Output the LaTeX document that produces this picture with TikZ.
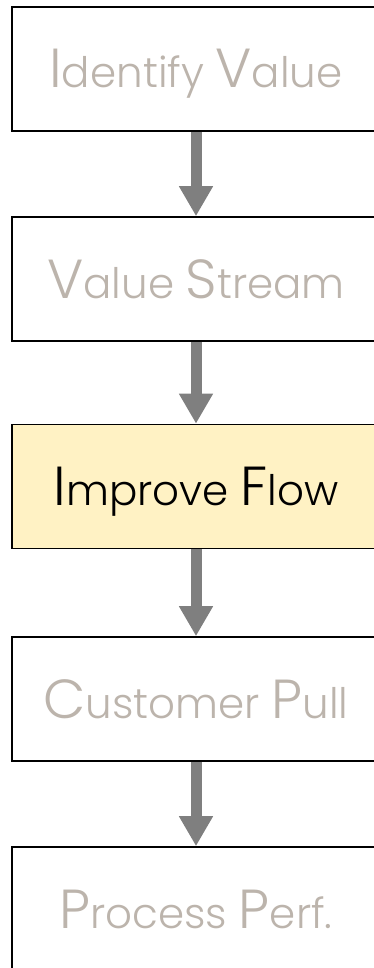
\documentclass[tikz,border=0pt]{standalone}
\usepackage{fontspec}
\setmainfont{Poppins}[UprightFont=* Light]
\usetikzlibrary{arrows.meta}
\definecolor{stepgrey}{HTML}{BCB4AC}
\definecolor{stepyellow}{HTML}{FFF2C4}
\definecolor{flowgrey}{HTML}{7F7F7F}
% large initial letter followed by smaller lowercase
\newcommand{\initcap}[1]{{\fontsize{55}{55}\selectfont #1}}
\begin{document}
\begin{tikzpicture}[x=1pt,y=1pt,
  stepbox/.style={draw=black,line width=1.6pt,fill=white,minimum width=368pt,minimum height=124pt,inner sep=0pt},
  activebox/.style={stepbox,fill=stepyellow},
  steptext/.style={anchor=base,inner sep=0pt,text=stepgrey,font=\fontsize{42}{42}\selectfont},
  activetext/.style={steptext,text=black},
  flow/.style={draw=flowgrey,line width=11pt,-{Triangle[width=32pt,length=30pt]}}]
\useasboundingbox (0,0) rectangle (374,-968);
\node[stepbox]    (b1) at (196,-69) {};
\node[stepbox]    (b2) at (196,-279) {};
\node[activebox]  (b3) at (196,-486.5) {};
\node[stepbox]    (b4) at (196,-699) {};
\node[stepbox]    (b5) at (196,-909) {};
\node[steptext]   (t1) at ([yshift=-19pt]b1.center) {\initcap{I}dentify \initcap{V}alue};
\node[steptext]   (t2) at ([yshift=-19pt]b2.center) {\initcap{V}alue \initcap{S}tream};
\node[activetext] (t3) at ([yshift=-19pt]b3.center) {\initcap{I}mprove \initcap{F}low};
\node[steptext]   (t4) at ([yshift=-19pt]b4.center) {\initcap{C}ustomer \initcap{P}ull};
\node[steptext]   (t5) at ([yshift=-19pt]b5.center) {\initcap{P}rocess \initcap{P}erf.};
\draw[flow] (b1.south) -- (b2.north);
\draw[flow] (b2.south) -- (b3.north);
\draw[flow] (b3.south) -- (b4.north);
\draw[flow] (b4.south) -- (b5.north);
\end{tikzpicture}
\end{document}
